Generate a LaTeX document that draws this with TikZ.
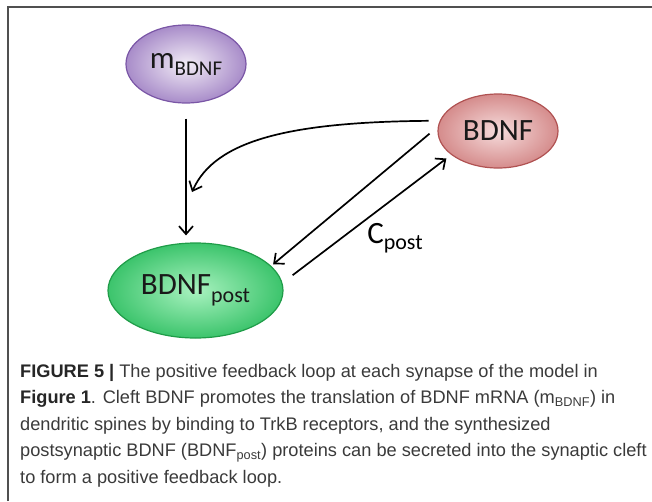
\documentclass[tikz,border=0pt]{standalone}
\usepackage{fontspec}
\setmainfont{Liberation Sans}
\newfontfamily\carl{Carlito}
\usetikzlibrary{arrows.meta,shapes.geometric}
\definecolor{capgray}{HTML}{3A3A3A}
\definecolor{framegray}{HTML}{505050}
\definecolor{purin}{HTML}{F2ECF6}
\definecolor{purout}{HTML}{A88CC9}
\definecolor{purdraw}{HTML}{7A56A6}
\definecolor{redin}{HTML}{F6DCDC}
\definecolor{redout}{HTML}{D58C8C}
\definecolor{reddraw}{HTML}{B05252}
\definecolor{grin}{HTML}{A8F2BF}
\definecolor{grout}{HTML}{3CC46C}
\definecolor{grdraw}{HTML}{1F9C48}
\tikzset{
  ell/.style={ellipse, inner sep=0pt, line width=1.2pt, text=black!90},
  arr/.style={line width=1.7pt, -{Straight Barb[length=8pt,width=14pt,line width=1.7pt]}},
  capline/.style={anchor=base west, inner sep=0pt, text=capgray, font=\fontsize{18.2}{20}\selectfont},
}
\begin{document}
\begin{tikzpicture}[x=1pt,y=-1pt]
\useasboundingbox (0,0) rectangle (652,501);
% frame
\draw[framegray, line width=2pt] (7.5,501) -- (7.5,6.5) -- (652,6.5);
% nodes
\node[ell, draw=purdraw, inner color=purin, outer color=purout,
      minimum width=120pt, minimum height=78pt] (m) at (186,64)
  {\carl\fontsize{31}{31}\selectfont m\raisebox{-7pt}{\fontsize{21}{21}\selectfont BDNF}};
\node[ell, draw=reddraw, inner color=redin, outer color=redout,
      minimum width=120pt, minimum height=74pt] (bdnf) at (498,131)
  {\carl\fontsize{31}{31}\selectfont BDNF};
\node[ell, draw=grdraw, inner color=grin, outer color=grout,
      minimum width=175pt, minimum height=95pt] (post) at (195.5,290.5)
  {\carl\fontsize{31}{31}\selectfont BDNF\raisebox{-8pt}{\fontsize{22}{22}\selectfont post}};
\node[inner sep=0pt] (cpost) at (395,238)
  {\carl\fontsize{31}{31}\selectfont C\raisebox{-6pt}{\fontsize{22}{22}\selectfont post}};
% connectors
\coordinate (cend) at (192,192);
\draw[arr, shorten <=15pt, shorten >=7pt] (m.south) -- (m.south |- post.north);
\draw[arr, shorten <=11pt] (bdnf.170) .. controls (290,122) and (215,140) .. (cend);
\draw[arr, shorten <=10.7pt, shorten >=2.5pt] (bdnf.176) -- (post.18);
\draw[arr, shorten <=12.7pt, shorten >=6pt] (post.5) -- (bdnf.207);
% caption
\node[capline] (c1) at (20,377) {\textbf{\color{black!85}FIGURE 5 |} The positive feedback loop at each synapse of the model in};
\node[capline] (c2) at (20,403.5) {\textbf{\color{black!85}Figure 1}. Cleft BDNF promotes the translation of BDNF mRNA (m\textsubscript{BDNF}) in};
\node[capline] (c3) at (20,430) {dendritic spines by binding to TrkB receptors, and the synthesized};
\node[capline] (c4) at (20,456.5) {postsynaptic BDNF (BDNF\textsubscript{post}) proteins can be secreted into the synaptic cleft};
\node[capline] (c5) at (20,483) {to form a positive feedback loop.};
\end{tikzpicture}
\end{document}
